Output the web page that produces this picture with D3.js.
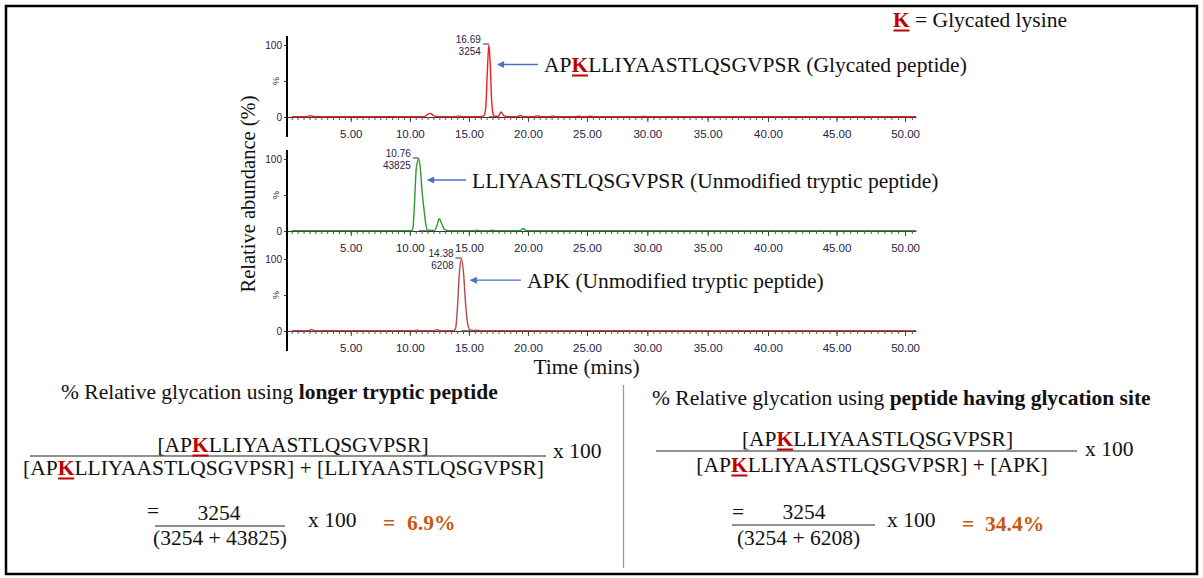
<!DOCTYPE html>
<html>
<head>
<meta charset="utf-8">
<script src="https://cdn.jsdelivr.net/npm/d3@7"></script>
<style>
  body { margin: 0; background: #fff; }
  svg { display: block; }
</style>
</head>
<body>
<div id="chart"></div>
<script>
// ---- data (time in min, relative abundance in %) ----
const glycTime = [0, 1.3, 1.6, 1.9, 2.3, 11.2, 11.5, 11.75, 12.0, 12.4, 13.8, 14.1, 14.5, 15.9, 16.25,
  16.42, 16.56, 16.69, 16.8, 16.92, 17.05, 17.25, 17.5, 17.72, 17.95, 18.3, 19.1, 19.35, 19.6, 20.5,
  20.8, 21.1, 21.8, 22.1, 22.4, 24.0, 24.3, 24.6, 25.0, 25.3, 25.6, 29.4, 29.7, 30.0, 50.8];
const glycPct = [0.5, 0.5, 1.8, 0.5, 0.5, 0.5, 3.5, 5, 2, 0.5, 0.5, 1.2, 0.5, 0.5, 1.5,
  12, 62, 100, 75, 25, 4, 0.8, 1, 7, 2, 0.5, 0.5, 2, 0.5, 0.5,
  1.5, 0.5, 0.5, 1.3, 0.5, 0.5, 1, 0.5, 0.5, 1, 0.5, 0.5, 0.8, 0.5, 0.5];

const unmodTime = [0, 10.1, 10.25, 10.4, 10.55, 10.76, 10.9, 11.05, 11.2, 11.35, 11.5, 11.8, 12.1, 12.3,
  12.5, 12.7, 12.95, 13.3, 15.5, 15.7, 15.9, 16.8, 17.0, 17.2, 19.35, 19.6, 19.85, 50.8];
const unmodPct = [0.5, 0.5, 3, 40, 88, 100, 85, 52, 30, 10, 1.5, 0.8, 0.8, 8,
  17, 10, 2, 0.5, 0.5, 1.2, 0.5, 0.5, 1, 0.5, 0.5, 3.5, 0.5, 0.5];

const apkTime = [0, 1.45, 1.7, 1.95, 10.3, 10.6, 10.9, 12.05, 12.3, 12.55, 13.7, 13.88, 14.03, 14.2,
  14.38, 14.55, 14.72, 14.9, 15.1, 15.4, 15.7, 16.0, 50.8];
const apkPct = [0.5, 0.5, 2, 0.5, 0.5, 1.2, 0.5, 0.5, 1.8, 0.5, 0.5, 4, 32, 82,
  100, 80, 38, 10, 1.5, 0.8, 1, 0.5, 0.5];

const peakTime = [16.69, 10.76, 14.38];
const peakArea = [3254, 43825, 6208];
const integEnd = [17.2, 11.5, 15.1];   // end of the grey integration baseline
const peakNames = [
  "AP_K_LLIYAASTLQSGVPSR (Glycated peptide)",
  "LLIYAASTLQSGVPSR (Unmodified tryptic peptide)",
  "APK (Unmodified tryptic peptide)"
];
const traceColors = ["#f21d1d", "#2f9a33", "#b8474c"];
const xTicks = [5, 10, 15, 20, 25, 30, 35, 40, 45, 50];

// ---- layout ----
const W = 1203, H = 578;
const serif = "'Liberation Serif','Times New Roman',serif";
const sans = "'Liberation Sans',Arial,sans-serif";
const kRed = "#c00000";
const orange = "#c55a11";
const axisInk = "#232346";
const fs = 21.5;
const panelTop = [45, 159, 259];   // y of 100 %
const panelH = 72;
const labelX = [544, 472, 527];
const labelDy = [27, 28.5, 28.7];

const svg = d3.select("#chart").append("svg")
  .attr("width", W).attr("height", H)
  .attr("viewBox", [0, 0, W, H]);

svg.append("rect").attr("width", W).attr("height", H).attr("fill", "#fff");
svg.append("rect")
  .attr("x", 6).attr("y", 6).attr("width", 1191).attr("height", 568)
  .attr("fill", "none").attr("stroke", "#000").attr("stroke-width", 2.5);

svg.append("defs").append("marker")
  .attr("id", "ah")
  .attr("viewBox", "0 0 10 10")
  .attr("refX", 9).attr("refY", 5)
  .attr("markerUnits", "userSpaceOnUse")
  .attr("markerWidth", 8).attr("markerHeight", 7)
  .attr("orient", "auto")
  .append("path").attr("d", "M0,0L10,5L0,10z").attr("fill", "#4472c4");

// text with _K_ (glycated lysine) and ^bold^ markup
function richText(parent, str, { x, y, anchor = "start", size = fs, weight = "normal", fill = "#111" }) {
  const t = parent.append("text")
    .attr("x", x).attr("y", y)
    .attr("text-anchor", anchor)
    .attr("font-family", serif)
    .attr("font-size", size)
    .attr("font-weight", weight)
    .attr("fill", fill);
  str.split(/(_[^_]+_|\^[^^]+\^)/).filter((s) => s.length).forEach((s) => {
    if (s[0] === "_") {
      t.append("tspan").attr("class", "glyK").attr("font-weight", "bold").attr("fill", kRed).text(s.slice(1, -1));
    } else if (s[0] === "^") {
      t.append("tspan").attr("font-weight", "bold").text(s.slice(1, -1));
    } else {
      t.append("tspan").text(s);
    }
  });
  return t;
}

// x scale is not quite uniform in the original raster
const x = d3.scaleLinear().domain([-0.4, 25, 40, 50.8]).range([287, 587, 768, 916]);

const line = d3.line().curve(d3.curveMonotoneX);
const series = [
  { time: glycTime, pct: glycPct },
  { time: unmodTime, pct: unmodPct },
  { time: apkTime, pct: apkPct }
];

series.forEach((s, i) => {
  const y100 = panelTop[i];
  const y0 = y100 + panelH;
  const y = d3.scaleLinear().domain([0, 100]).range([y0, y100]);
  const g = svg.append("g");

  // x axis: minor ticks + labelled majors
  const gMinor = g.append("g").attr("transform", `translate(0,${y0})`)
    .call(d3.axisBottom(x).tickValues(d3.range(0, 50.51, 0.5)).tickSize(3).tickSizeOuter(0).tickFormat(""));
  gMinor.select(".domain").attr("stroke", "#333");
  gMinor.selectAll(".tick line").attr("stroke", "#555");

  const gMajor = g.append("g").attr("transform", `translate(0,${y0})`)
    .call(d3.axisBottom(x).tickValues(xTicks).tickSize(5).tickPadding(7.5).tickFormat(d3.format(".2f")));
  gMajor.select(".domain").remove();
  gMajor.selectAll(".tick line").attr("stroke", "#444");
  gMajor.selectAll("text").attr("font-family", sans).attr("font-size", 11.5).attr("fill", axisInk);

  // y axis
  const gy = g.append("g").attr("transform", "translate(287,0)")
    .call(d3.axisLeft(y).tickValues([0, 50, 100]).tickSize(3).tickPadding(2).tickFormat((d) => (d === 50 ? "" : d)));
  gy.select(".domain").remove();
  gy.selectAll(".tick line").attr("stroke", "#333");
  gy.selectAll("text").attr("font-family", sans).attr("font-size", 10).attr("fill", axisInk);
  g.append("text")
    .attr("transform", `translate(279,${y(50)}) rotate(-90)`)
    .attr("text-anchor", "middle")
    .attr("font-family", sans).attr("font-size", 9).attr("fill", axisInk)
    .text("%");
  g.append("line")
    .attr("x1", 287).attr("x2", 287)
    .attr("y1", y100 - 9).attr("y2", y0 + 20)
    .attr("stroke", "#000").attr("stroke-width", 2);

  // grey integration baseline under the peak
  g.append("line")
    .attr("x1", x(peakTime[i])).attr("x2", x(integEnd[i]))
    .attr("y1", y(0.6)).attr("y2", y(0.6))
    .attr("stroke", "#777").attr("stroke-width", 1.2);

  // trace
  g.append("path")
    .attr("d", line(s.time.map((t, j) => [x(t), y(s.pct[j])])))
    .attr("fill", "none")
    .attr("stroke", traceColors[i])
    .attr("stroke-width", 1.4);

  // apex annotation
  const px = x(peakTime[i]);
  g.append("line")
    .attr("x1", px - 6).attr("x2", px).attr("y1", y100 - 1).attr("y2", y100 - 1)
    .attr("stroke", "#333").attr("stroke-width", 1);
  g.append("text")
    .attr("x", px - 8).attr("y", y100 - 2.5)
    .attr("text-anchor", "end")
    .attr("font-family", sans).attr("font-size", 10).attr("fill", axisInk)
    .text(peakTime[i].toFixed(2));
  g.append("text")
    .attr("x", px - 8).attr("y", y100 + 10)
    .attr("text-anchor", "end")
    .attr("font-family", sans).attr("font-size", 10).attr("fill", axisInk)
    .text(peakArea[i]);

  // arrow + peptide label
  const base = y100 + labelDy[i];
  g.append("line")
    .attr("x1", labelX[i] - 6).attr("x2", px + 9)
    .attr("y1", base - 7.5).attr("y2", base - 7.5)
    .attr("stroke", "#4472c4").attr("stroke-width", 1.3)
    .attr("marker-end", "url(#ah)");
  richText(g, peakNames[i], { x: labelX[i], y: base });
});

// axis titles
svg.append("text")
  .attr("transform", "translate(248,194) rotate(-90)")
  .attr("text-anchor", "middle").attr("dy", "0.35em")
  .attr("font-family", serif).attr("font-size", 20.5).attr("fill", "#111")
  .text("Relative abundance (%)");
svg.append("text")
  .attr("x", 586.5).attr("y", 373.5)
  .attr("text-anchor", "middle")
  .attr("font-family", serif).attr("font-size", fs).attr("fill", "#111")
  .text("Time (mins)");

// legend
richText(svg, "_K_ = Glycated lysine", { x: 893, y: 27 });

// ---- formulas ----
function rule(x1, x2, yy) {
  svg.append("line").attr("x1", x1).attr("x2", x2).attr("y1", yy).attr("y2", yy)
    .attr("stroke", "#222").attr("stroke-width", 1.2);
}
const pct1 = peakArea[0] / (peakArea[0] + peakArea[1]) * 100;
const pct2 = peakArea[0] / (peakArea[0] + peakArea[2]) * 100;

// left
richText(svg, "% Relative glycation using ^longer tryptic peptide^", { x: 61, y: 399 });
rule(30, 546, 456);
richText(svg, "[AP_K_LLIYAASTLQSGVPSR]", { x: 293, y: 452, anchor: "middle" });
richText(svg, "[AP_K_LLIYAASTLQSGVPSR] + [LLIYAASTLQSGVPSR]", { x: 283.5, y: 475, anchor: "middle" });
richText(svg, "x 100", { x: 553, y: 458 });
richText(svg, "=", { x: 147, y: 518 });
rule(155, 285, 526);
richText(svg, `${peakArea[0]}`, { x: 219, y: 520, anchor: "middle" });
richText(svg, `(${peakArea[0]} + ${peakArea[1]})`, { x: 220, y: 545, anchor: "middle" });
richText(svg, "x 100", { x: 308, y: 527 });
richText(svg, "=", { x: 383, y: 530, weight: "bold", fill: orange });
richText(svg, `${pct1.toFixed(1)}%`, { x: 407, y: 530, weight: "bold", fill: orange });

// divider
svg.append("line").attr("x1", 623.5).attr("x2", 623.5).attr("y1", 385).attr("y2", 568)
  .attr("stroke", "#7d9fd8").attr("stroke-width", 1.3);

// right
richText(svg, "% Relative glycation using ^peptide having glycation site^", { x: 652, y: 405 });
rule(656, 1077, 451);
richText(svg, "[AP_K_LLIYAASTLQSGVPSR]", { x: 877.5, y: 446, anchor: "middle" });
richText(svg, "[AP_K_LLIYAASTLQSGVPSR] + [APK]", { x: 872, y: 472, anchor: "middle" });
richText(svg, "x 100", { x: 1085, y: 456 });
richText(svg, "=", { x: 732, y: 519 });
rule(732, 875, 525);
richText(svg, `${peakArea[0]}`, { x: 804, y: 519, anchor: "middle" });
richText(svg, `(${peakArea[0]} + ${peakArea[2]})`, { x: 798.5, y: 545, anchor: "middle" });
richText(svg, "x 100", { x: 887, y: 527 });
richText(svg, "=", { x: 962, y: 531, weight: "bold", fill: orange });
richText(svg, `${pct2.toFixed(1)}%`, { x: 985, y: 531, weight: "bold", fill: orange });

// underline every glycated K
svg.selectAll("tspan.glyK").each(function () {
  const b = this.getBBox();
  const base = +this.parentNode.getAttribute("y");
  svg.append("rect")
    .attr("x", b.x + 0.5).attr("y", base + 2.5)
    .attr("width", b.width - 1).attr("height", 2)
    .attr("fill", kRed);
});
</script>
</body>
</html>
